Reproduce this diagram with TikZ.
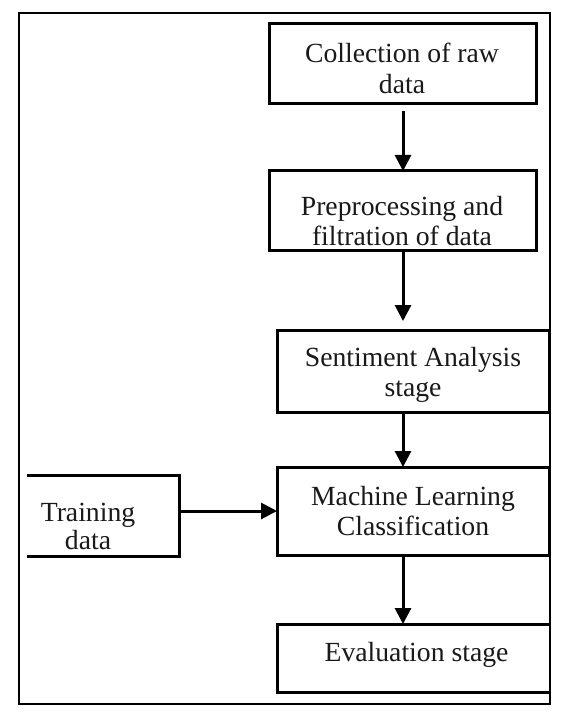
\documentclass[tikz,border=0pt]{standalone}
\usepackage{fontspec}
\setmainfont{Liberation Serif}
\usetikzlibrary{arrows.meta}
\begin{document}
\begin{tikzpicture}[x=1pt,y=-1pt,
  stagebox/.style={draw=black,line width=3pt,inner sep=0pt,outer sep=0pt,rectangle},
  stagetext/.style={inner sep=0pt,outer sep=0pt,align=center,text=black!90,
    font=\fontsize{27.7}{30.5}\selectfont},
  arr/.style={line width=3pt,-{Triangle[length=16pt,width=16pt]}},
  frame/.style={draw=black,line width=1.3pt}]
\useasboundingbox (0,0) rectangle (570,722);
\fill[white] (0,0) rectangle (570,722);
\coordinate (col) at (403,0);
\begin{scope}
\clip (27,0) rectangle (550,722);
\node[stagebox,minimum width=267pt,minimum height=80pt] (b1) at (402.5,64) {};
\node[stagebox,minimum width=267pt,minimum height=79pt] (b2) at (402.5,210.5) {};
\node[stagebox,minimum width=272pt,minimum height=82pt] (b3) at (413,371) {};
\node[stagebox,minimum width=272pt,minimum height=88pt] (b4) at (413,511) {};
\node[stagebox,minimum width=279pt,minimum height=68pt] (b5) at (416.5,658) {};
\node[stagebox,minimum width=182pt,minimum height=81pt] (b6) at (88,515.5) {};
\end{scope}
\node[stagetext,anchor=north] (t1) at (402,43) {Collection of raw\\data};
\node[stagetext,anchor=north] (t2) at (402,196) {Preprocessing and\\filtration of data};
\node[stagetext,anchor=north] (t3) at (413,347) {Sentiment Analysis\\stage};
\node[stagetext,anchor=north] (t4) at (413,486) {Machine Learning\\Classification};
\node[stagetext,anchor=base] (t5) at (416.5,661) {Evaluation stage};
\node[stagetext,anchor=north,font=\fontsize{27.7}{28.5}\selectfont] (t6) at (88,503) {Training\\data};
\draw[arr,shorten <=7pt] (b1.south -| col) -- (b2.north -| col);
\draw[arr,shorten >=9pt] (b2.south -| col) -- (b3.north -| col);
\draw[arr] (b3.south -| col) -- (b4.north -| col);
\draw[arr] (b4.south -| col) -- (b5.north -| col);
\draw[arr] (b6.east |- b4.west) -- (b4.west);
\draw[frame] (19,13) rectangle (550,704);
\end{tikzpicture}
\end{document}
